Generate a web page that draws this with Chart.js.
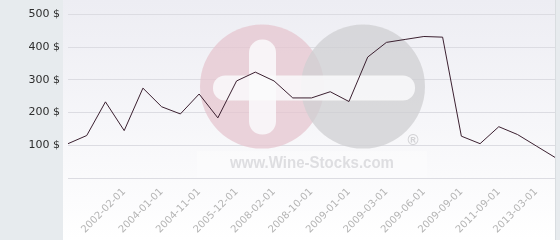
<!DOCTYPE html>
<html lang="en">
<head>
  <meta charset="UTF-8" />
  <title>Wine price</title>
  <script src="https://cdn.jsdelivr.net/npm/chart.js"></script>
  <style>
    html, body { margin: 0; padding: 0; background: #e7ebee; }
    #wrap { width: 560px; height: 240px; }
  </style>
</head>
<body>
  <div id="wrap"><canvas id="prix"></canvas></div>

  <script>
    // one entry per point, only some are labelled on the axis
    const dates = [
      '', '', '', '2002-02-01', '', '2004-01-01', '', '2004-11-01', '',
      '2005-12-01', '', '2008-02-01', '', '2008-10-01', '', '2009-01-01', '',
      '2009-03-01', '', '2009-06-01', '', '2009-09-01', '', '2011-09-01', '',
      '2013-03-01', ''
    ];
    const prix = [
      105, 130, 233, 145, 275, 218, 196, 257, 184,
      297, 324, 297, 245, 245, 264, 234, 370,
      415, 424, 433, 431, 128, 105, 157, 133,
      98, 63
    ];
    const yTicks = [0, 100, 200, 300, 400, 500];

    // fond gris + degrade de la zone du graphique
    const fond = {
      id: 'fond',
      beforeDraw(chart) {
        const { ctx, chartArea } = chart;
        const w = chart.width, h = chart.height;
        ctx.save();
        ctx.fillStyle = '#e7ebee';
        ctx.fillRect(0, 0, w, h);
        const g = ctx.createLinearGradient(0, 0, 0, h);
        g.addColorStop(0, '#ededf3');
        g.addColorStop(1, '#ffffff');
        ctx.fillStyle = g;
        ctx.fillRect(chartArea.left - 5, 0, chartArea.right - chartArea.left + 5, h);
        ctx.fillStyle = '#d9dde0';
        ctx.fillRect(chartArea.right, 0, 1, h);
        ctx.restore();
      }
    };

    // logo en filigrane
    const filigrane = {
      id: 'filigrane',
      beforeDatasetsDraw(chart) {
        const { ctx, chartArea } = chart;
        const cx = chartArea.left + 194;
        const cy = chartArea.top + 72;
        const r = 62;
        ctx.save();
        ctx.globalAlpha = 0.75;
        ctx.fillStyle = '#e6c5cf';
        ctx.beginPath();
        ctx.arc(cx, cy, r, 0, Math.PI * 2);
        ctx.fill();
        ctx.fillStyle = '#cfcfd2';
        ctx.beginPath();
        ctx.arc(cx + 101, cy, r, 0, Math.PI * 2);
        ctx.fill();

        ctx.globalAlpha = 0.85;
        ctx.fillStyle = '#fafafc';
        ctx.beginPath();
        ctx.roundRect(cx - 13, cy - 47, 27, 95, 13);
        ctx.fill();
        ctx.beginPath();
        ctx.roundRect(cx - 49, cy - 11, 202, 25, 12);
        ctx.fill();

        ctx.globalAlpha = 0.3;
        ctx.fillStyle = '#ffffff';
        ctx.fillRect(cx - 65, cy + 64, 230, 27);

        ctx.globalAlpha = 1;
        ctx.fillStyle = '#dedee1';
        ctx.font = 'bold 17px "Liberation Sans", Arial, sans-serif';
        ctx.textAlign = 'left';
        ctx.textBaseline = 'alphabetic';
        ctx.fillText('www.Wine-Stocks.com', cx - 32, cy + 81, 164);
        ctx.font = 'bold 15px "Liberation Sans", Arial, sans-serif';
        ctx.textAlign = 'center';
        ctx.textBaseline = 'middle';
        ctx.fillStyle = '#d2d2d5';
        ctx.fillText('®', cx + 151, cy + 54);
        ctx.restore();
      }
    };

    new Chart(document.getElementById('prix'), {
      type: 'line',
      data: {
        labels: dates,
        datasets: [{
          label: 'Prix',
          data: prix,
          borderColor: '#3b2030',
          borderWidth: 1,
          pointRadius: 0,
          tension: 0,
          fill: false,
        }],
      },
      options: {
        responsive: true,
        maintainAspectRatio: false,
        animation: false,
        layout: {
          padding: { top: 13, right: 5, left: 0, bottom: 0 },
        },
        scales: {
          y: {
            min: 0,
            max: 500,
            afterBuildTicks(scale) {
              scale.ticks = yTicks.map(v => ({ value: v }));
            },
            afterFit(scale) {
              scale.width = 68;
            },
            border: { display: false },
            grid: {
              color: '#dcdce2',
              drawTicks: false,
            },
            ticks: {
              padding: 8,
              color: '#2e2e2e',
              font: { family: 'DejaVu Sans', size: 11 },
              callback: v => (v === 0 ? '' : v + ' $'),
            },
          },
          x: {
            offset: false,
            afterFit(scale) {
              scale.height = 62;
              scale.paddingLeft = 0;
              scale.paddingRight = 0;
            },
            border: { display: false },
            grid: { display: false, drawTicks: false },
            ticks: {
              autoSkip: false,
              maxRotation: 45,
              minRotation: 45,
              padding: 8,
              color: '#b4b4b4',
              font: { family: 'DejaVu Sans', size: 10 },
            },
          },
        },
        plugins: {
          legend: { display: false },
          tooltip: { enabled: false },
        },
      },
      plugins: [fond, filigrane],
    });
  </script>
</body>
</html>
